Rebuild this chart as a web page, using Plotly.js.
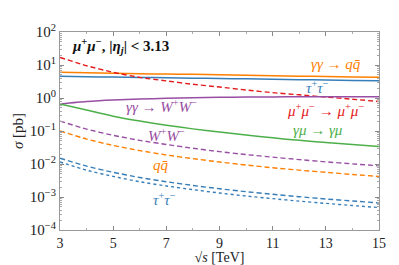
<!DOCTYPE html>
<html>
<head>
<meta charset="utf-8">
<script src="https://cdn.plot.ly/plotly-3.0.1.min.js"></script>
<style>html,body{margin:0;padding:0;background:#fff;}#chart{width:399px;height:265px;}</style>
</head>
<body>
<div id="chart"></div>
<script>
const sqrtS = [3,4,5,6,7,8,9,10,11,12,13,14,15];
const aaQQ     = [6.0,5.8,5.6,5.45,5.3,5.2,5.05,4.9,4.75,4.6,4.5,4.35,4.25];
const aaTauTau = [4.55,4.4,4.3,4.2,4.1,4.0,3.9,3.8,3.7,3.6,3.5,3.42,3.35];
const mumuMumu = [17,9.5,6.0,4.2,3.3,2.6,2.15,1.75,1.45,1.25,1.07,0.92,0.78];
const aaWW     = [0.66,0.78,0.87,0.93,0.98,1.02,1.05,1.07,1.08,1.09,1.1,1.1,1.1];
const amuAmu   = [0.66,0.43,0.28,0.2,0.15,0.116,0.093,0.076,0.062,0.052,0.045,0.039,0.034];
const mmWW     = [0.2,0.114,0.074,0.052,0.039,0.030,0.0237,0.0193,0.0161,0.0136,0.0116,0.0101,0.0088];
const mmQQ     = [0.1,0.057,0.0365,0.0255,0.0188,0.0145,0.0115,0.0093,0.0077,0.0065,0.0056,0.0048,0.0042];
const mmTauTau = [0.015,0.0086,0.0056,0.0039,0.0029,0.00224,0.00178,0.00145,0.00121,0.00102,0.00087,0.00076,0.00066];
const mmTauTauDot = [0.0115,0.0065,0.0042,0.0029,0.00216,0.00167,0.00132,0.00107,0.00089,0.00075,0.00064,0.00055,0.00048];

const xTicks = [3,5,7,9,11,13,15];
const yTickVals = [1e2,1e1,1e0,1e-1,1e-2,1e-3,1e-4];
const yTickText = ['10<sup>2</sup>','10<sup>1</sup>','10<sup>0</sup>','10<sup>−1</sup>','10<sup>−2</sup>','10<sup>−3</sup>','10<sup>−4</sup>'];

const C = {red:'#e41a1c', blue:'#377eb8', green:'#4daf4a', purple:'#984ea3', orange:'#ff7f00'};

const yMinor = [];
for (let e=-4; e<2; e++) for (let d=2; d<=9; d++) yMinor.push(d*Math.pow(10,e));
const xMinor = [];
for (let v=3; v<=15; v++) xMinor.push(v);

function tr(y, color, dash, w) {
  return {x: sqrtS, y: y, type:'scatter', mode:'lines', line:{color:color, dash:dash||'solid', width:w||1.5, shape:'spline', smoothing:0.6}, hoverinfo:'skip'};
}
const DASH = '5px,3px';
const data = [
  tr(aaQQ, C.orange),
  tr(aaTauTau, C.blue),
  tr(mumuMumu, C.red, DASH, 1.4),
  tr(aaWW, C.purple),
  tr(amuAmu, C.green),
  tr(mmWW, C.purple, DASH, 1.4),
  tr(mmQQ, C.orange, DASH, 1.4),
  tr(mmTauTau, C.blue, DASH, 1.4),
  tr(mmTauTauDot, C.blue, 'dot', 1.4),
];

const F = 'Liberation Serif, DejaVu Serif, serif';
function ann(x, y, text, color, anchor, size) {
  return {xref:'paper', yref:'paper', x:x, y:y, text:text, showarrow:false, xanchor:anchor||'left', yanchor:'middle', font:{family:F, size:size||15, color:color}};
}
// paper coords: plot area x 60..379 (w 319), y 32..230 (h 198)
function px(x){return (x-60)/319;}
function py(y){return (230-y)/198;}
const annotations = [
  ann(px(70), py(46), '<b><i>μ</i><sup>+</sup><i>μ</i><sup>−</sup>, |<i>η<sub>j</sub></i>| &lt; 3.13</b>', '#111', 'left', 15),
  ann(px(363), py(64), '<i>γγ</i> → <i>q</i><i>q̄</i>', C.orange, 'right'),
  ann(px(317), py(87), '<i>τ</i><sup>+</sup><i>τ</i><sup>−</sup>', C.blue, 'center'),
  ann(px(366), py(110), '<i>μ</i><sup>+</sup><i>μ</i><sup>−</sup> → <i>μ</i><sup>+</sup><i>μ</i><sup>−</sup>', C.red, 'right'),
  ann(px(124), py(106), '<i>γγ</i> → <i>W</i><sup>+</sup><i>W</i><sup>−</sup>', C.purple, 'left'),
  ann(px(318), py(130), '<i>γμ</i> → <i>γμ</i>', C.green, 'center'),
  ann(px(166), py(135), '<i>W</i><sup>+</sup><i>W</i><sup>−</sup>', C.purple, 'center'),
  ann(px(161), py(165), '<i>q</i><i>q̄</i>', C.orange, 'center'),
  ann(px(164), py(199), '<i>τ</i><sup>+</sup><i>τ</i><sup>−</sup>', C.blue, 'center'),
];

const layout = {
  width:399, height:265,
  margin:{l:60, r:20, t:32, b:35},
  paper_bgcolor:'#fff', plot_bgcolor:'#fff',
  showlegend:false,
  font:{family:F, size:13, color:'#222'},
  xaxis:{
    range:[3,15], tickvals:xTicks, ticktext:xTicks.map(String),
    ticks:'inside', ticklen:4, tickcolor:'#888', showline:true, linecolor:'#999', linewidth:1, mirror:'ticks',
    showgrid:false, zeroline:false,
    tickfont:{family:F, size:14, color:'#222'},
    minor:{tickvals:xMinor, ticks:'inside', ticklen:2, tickcolor:'#aaa', showgrid:false},
    title:{text:'√<i>s</i> [TeV]', font:{family:F, size:14, color:'#222'}, standoff:7}
  },
  yaxis:{
    type:'log', range:[-4,2], tickvals:yTickVals, ticktext:yTickText,
    ticks:'inside', ticklen:4, tickcolor:'#888', showline:true, linecolor:'#999', linewidth:1, mirror:'ticks',
    showgrid:false, zeroline:false,
    tickfont:{family:F, size:15, color:'#222'},
    minor:{tickvals:yMinor, ticks:'inside', ticklen:2, tickcolor:'#aaa', showgrid:false},
    title:{text:'<i>σ</i> [pb]', font:{family:F, size:15, color:'#222'}, standoff:2}
  },
  annotations: annotations
};
Plotly.newPlot('chart', data, layout, {staticPlot:true, displayModeBar:false});
</script>
</body>
</html>
